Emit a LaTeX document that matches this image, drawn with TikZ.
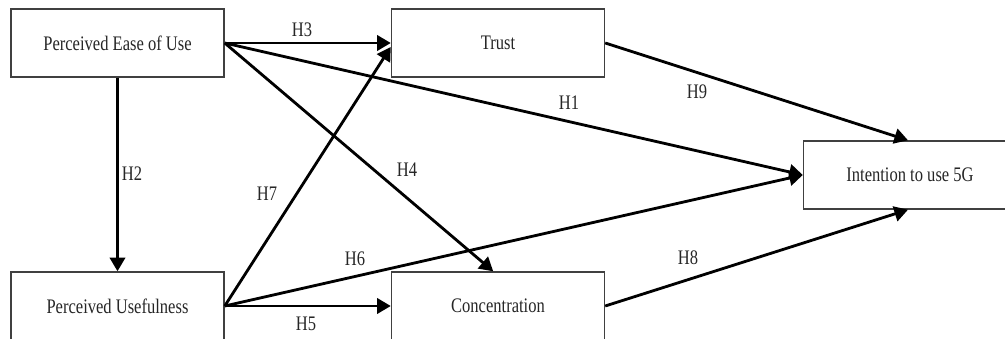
\documentclass[tikz,border=0pt]{standalone}
\usepackage{fontspec}
\setmainfont{Liberation Serif}[FakeStretch=0.8]
\usetikzlibrary{arrows.meta}
\begin{document}
\begin{tikzpicture}[x=0.025cm,y=-0.025cm,
  box/.style={draw=black!75,line width=1pt,fill=white,minimum width=5.325cm,minimum height=1.7cm,inner sep=0pt,text=black!85,font=\fontsize{14.7}{16}\selectfont},
  hyp/.style={text=black!85,font=\fontsize{14.7}{16}\selectfont,inner sep=0pt},
  arr/.style={line width=2pt,-{Triangle[length=0.34cm,width=0.38cm]}}]
\useasboundingbox (0,0) rectangle (1005,339);
\clip (0,0) rectangle (1005,339);
\node[box] (peou) at (117.5,43) {Perceived Ease of Use};
\node[box] (trust) at (498,43) {Trust};
\node[box] (pu) at (117.5,306) {Perceived Usefulness};
\node[box] (conc) at (498,306) {Concentration};
\node[box] (int) at (910,175) {Intention to use 5G};
\draw[arr] (peou.south) -- (pu.north);
\draw[arr] (peou.east) -- (trust.west);
\draw[arr] (peou.east) -- (int.west);
\draw[arr] (peou.east) -- ([xshift=-0.12cm]conc.north);
\draw[arr] (pu.east) -- ([yshift=-0.1cm]trust.west);
\draw[arr] (pu.east) -- (int.west);
\draw[arr] (pu.east) -- (conc.west);
\draw[arr] (trust.east) -- ([xshift=-0.05cm]int.north);
\draw[arr] (conc.east) -- ([xshift=-0.05cm]int.south);
\node[hyp] (h1) at (569,103) {H1};
\node[hyp] (h2) at (132,174) {H2};
\node[hyp] (h3) at (302,30) {H3};
\node[hyp] (h4) at (407,170) {H4};
\node[hyp] (h5) at (306,324) {H5};
\node[hyp] (h6) at (355,259) {H6};
\node[hyp] (h7) at (267,194) {H7};
\node[hyp] (h8) at (688,258) {H8};
\node[hyp] (h9) at (697,92) {H9};
\end{tikzpicture}
\end{document}
